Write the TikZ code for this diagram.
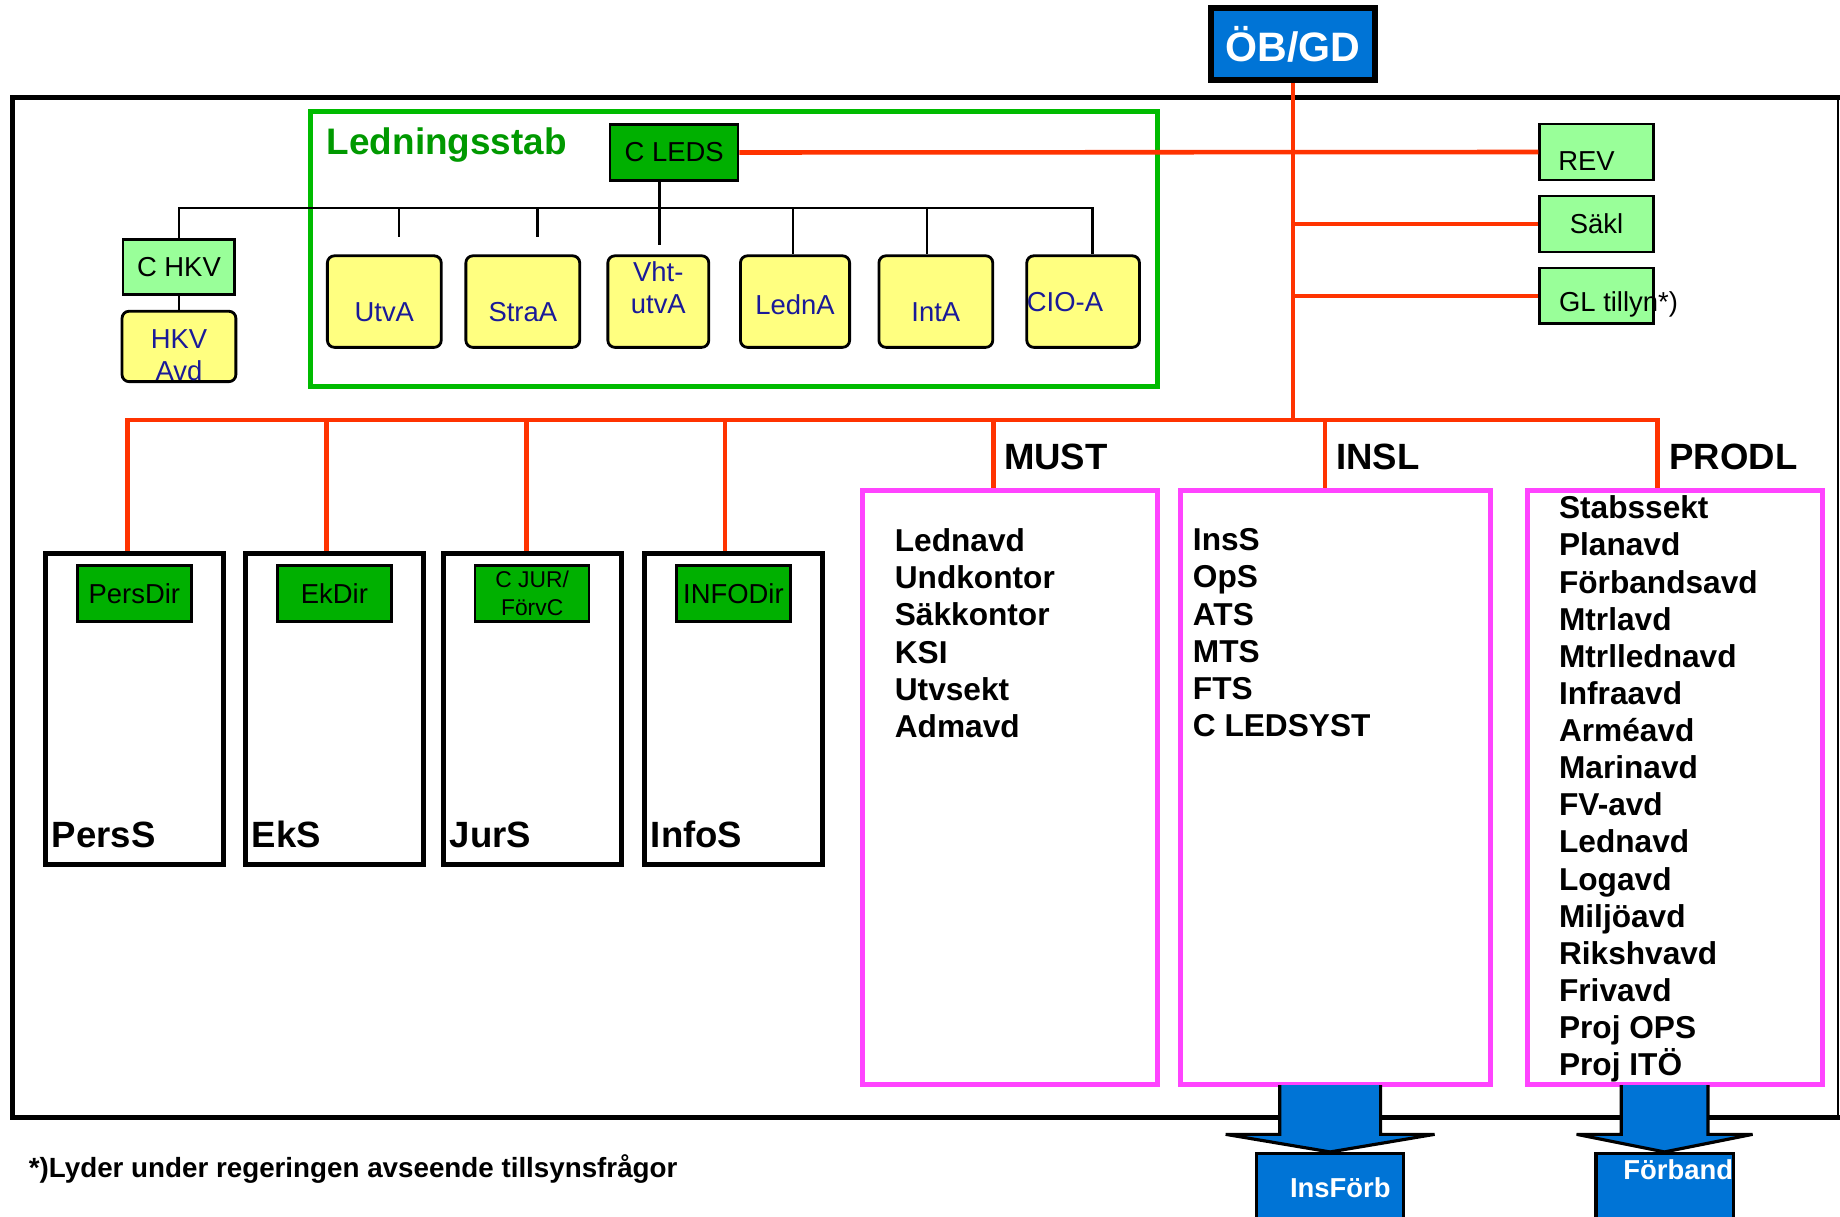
\documentclass[tikz,border=0pt]{standalone}
\usepackage{fontspec}
\setmainfont{Liberation Sans}
\usetikzlibrary{positioning}

\definecolor{obblue}{RGB}{0,116,214}
\definecolor{litegreen}{RGB}{153,255,153}
\definecolor{darkgreen}{RGB}{0,176,0}
\definecolor{stabgreen}{RGB}{0,187,0}
\definecolor{titlegreen}{RGB}{0,153,0}
\definecolor{boxyellow}{RGB}{255,255,128}
\definecolor{navytext}{RGB}{26,26,153}
\definecolor{orgred}{RGB}{255,51,0}
\definecolor{pinkframe}{RGB}{255,68,255}

\tikzset{
  sz/.style 2 args={minimum width=#1*0.3339pt, minimum height=#2*0.3339pt},
  boxfont/.style={font=\fontsize{7.8}{9}\selectfont},
  lgbox/.style={draw, line width=0.7pt, fill=litegreen, inner sep=0pt, boxfont, sz={97}{47.5}},
  dgbox/.style={draw, line width=0.7pt, fill=darkgreen, inner sep=0pt, boxfont, sz={97}{48}},
  ybox/.style={draw, line width=0.8pt, fill=boxyellow, rounded corners=2pt, inner sep=0pt, text=navytext, boxfont},
  staffbox/.style={draw, line width=1.4pt, inner sep=0pt, sz={151.5}{265}},
  pinkbox/.style={draw=pinkframe, line width=1.4pt, inner sep=0pt},
  bigbold/.style={inner sep=0pt, anchor=west, font=\bfseries\fontsize{10.4}{12}\selectfont},
  listtext/.style={inner sep=0pt, anchor=north west, align=left, font=\bfseries\fontsize{9}{10.56}\selectfont},
  bluebox/.style={draw, line width=0.9pt, fill=obblue, text=white, inner sep=0pt, font=\bfseries\fontsize{7.8}{9}\selectfont},
  blockarrow/.style={draw, line width=0.9pt, fill=obblue},
  redline/.style={draw=orgred, line width=1.3pt},
  treeline/.style={draw, line width=0.6pt},
  txtdown/.style={text depth=0pt, text height=5.6pt+2*#1}
}

\begin{document}
\begin{tikzpicture}[x=0.011735cm, y=-0.011735cm]
\useasboundingbox (0,0) rectangle (1568,1037);

% outer frame
\draw[line width=1.4pt] (1568,83) -- (11,83) -- (11,952) -- (1568,952);
\draw[line width=0.5pt] (1566,83) -- (1566,952);

% top
\node[draw, line width=1.7pt, fill=obblue, text=white, inner sep=0pt, sz={140}{61},
      font=\bfseries\fontsize{11.7}{14}\selectfont] (obgd) at (1102,37.5) {ÖB/GD};

\node[lgbox, txtdown=2.5pt, text width=21.7pt, align=left] (rev) at (1360.5,129.5) {REV};
\node[lgbox, below=3.9pt of rev] (sakl) {Säkl};
\node[lgbox, below=3.9pt of sakl] (gl) {};
\node[anchor=west, inner sep=0pt, boxfont] (gltext) at (1328,259) {GL tillyn*)};

% Ledningsstab
\node[draw=stabgreen, line width=1.4pt, sz={721}{234}] (ledstab) at (625.5,212) {};
\node[anchor=west, inner sep=0pt, text=titlegreen,
      font=\bfseries\fontsize{10.5}{12}\selectfont] (stabtitle) at (278,124) {Ledningsstab};
\node[dgbox, sz={109}{48}] (cleds) at (574.5,130) {C LEDS};

\node[ybox, sz={97}{78}, txtdown=3pt] (utva) at (327.5,257) {UtvA};
\node[ybox, sz={97}{78}, txtdown=3pt] (straa) at (445.5,257) {StraA};
\node[ybox, sz={86}{78}, align=center, text height=14.6pt, text depth=8pt] (vhtutva) at (561,257) {Vht-\\utvA};
\node[ybox, sz={93}{78}, txtdown=1pt] (ledna) at (677.5,257) {LednA};
\node[ybox, sz={97}{78}, txtdown=3pt] (inta) at (797.5,257) {IntA};
\node[ybox, sz={96}{78}, text width=32pt, align=left] (cioa) at (923,257) {CIO-A};

\node[lgbox, sz={95}{47}] (chkv) at (152.5,227.5) {C HKV};
\node[ybox, sz={97}{60}, align=center, text height=19.2pt, text depth=0pt,
      below=4pt of chkv] (hkvavd) {HKV\\Avd};

% staber
\foreach \n/\x/\t in {perss/114.5/PersS, eks/285/EkS, jurs/453.5/JurS, infos/625/InfoS}{
  \node[staffbox] (\n) at (\x,604.5) {};
  \node[bigbold] (lbl-\n) at ([shift={(7,-28)}]\n.south west) {\t};
}
\node[dgbox, below=3.6pt of perss.north] (persdir) {PersDir};
\node[dgbox, below=3.6pt of eks.north] (ekdir) {EkDir};
\node[dgbox, below=3.6pt of jurs.north, align=center,
      font=\fontsize{6.5}{8}\selectfont] (cjur) {C JUR/\\FörvC};
\node[dgbox, below=3.6pt of infos.north] (infodir) {INFODir};

% ledningar
\node[pinkbox, sz={251}{506}] (must) at (860.5,671) {};
\node[pinkbox, sz={264}{506}] (insl) at (1138,671) {};
\node[pinkbox, sz={251}{506}] (prodl) at (1427.5,671) {};
\node[bigbold] (musthd) at (855,389) {MUST};
\node[bigbold] (inslhd) at (1138,389) {INSL};
\node[bigbold] (prodlhd) at (1422,389) {PRODL};

\node[listtext] (mustlist) at (762,450) {Lednavd\\Undkontor\\Säkkontor\\KSI\\Utvsekt\\Admavd};
\node[listtext] (insllist) at (1016,450) {InsS\\OpS\\ATS\\MTS\\FTS\\C LEDSYST};
\node[listtext] (prodllist) at (1328,422) {Stabssekt\\Planavd\\Förbandsavd\\Mtrlavd\\Mtrllednavd\\Infraavd\\Arméavd\\Marinavd\\FV-avd\\Lednavd\\Logavd\\Miljöavd\\Rikshvavd\\Frivavd\\Proj OPS\\Proj ITÖ};

% förband
\node[bluebox, sz={125}{58}, text width=34.4pt, align=right] (insforb) at (1133.5,1012) {InsFörb};
\node[bluebox, sz={117}{62}, text width=39pt, align=right, text height=5.8pt, text depth=12pt] (forband) at (1418.5,1014) {Förband};

\node[anchor=west, inner sep=0pt, font=\bfseries\fontsize{7.9}{9}\selectfont] (footnote) at (24,996)
  {*)Lyder under regeringen avseende tillsynsfrågor};

% linjer
\coordinate (bus) at (1102,358);
\draw[redline] (obgd) -- (bus);
\draw[redline] (cleds) -- (rev);
\draw[redline] (sakl.west) -- (sakl.west -| bus);
\draw[redline] (gl.west) -- (gl.west -| bus);
\foreach \n/\s in {perss/-6, eks/-7, jurs/-5, infos/-7, must/-14, insl/-9, prodl/-15}
  \draw[redline] (bus) -| ([shift={(\s,0)}]\n.north);

\coordinate (hub) at (562,177);
\draw[treeline] (cleds.south -| hub) -- (hub);
\draw[treeline] (hub) -| (chkv.north);
\draw[treeline] (chkv) -- (hkvavd);
\foreach \n/\dx/\dy in {utva/12.5/-15, straa/12.5/-15, vhtutva/1/-8, ledna/-1.5/0, inta/-7.5/0, cioa/8/0}
  \draw[treeline] (hub) -| ([shift={(\dx,\dy)}]\n.north);

% pilar
\foreach \b/\s/\w in {insforb/43/89, forband/37/75}
  \filldraw[blockarrow] ([shift={(-\s,-57)}]\b.north) -- ([shift={(-\s,-15)}]\b.north)
    -- ([shift={(-\w,-15)}]\b.north) -- (\b.north) -- ([shift={(\w,-15)}]\b.north)
    -- ([shift={(\s,-15)}]\b.north) -- ([shift={(\s,-57)}]\b.north);
\end{tikzpicture}
\end{document}
